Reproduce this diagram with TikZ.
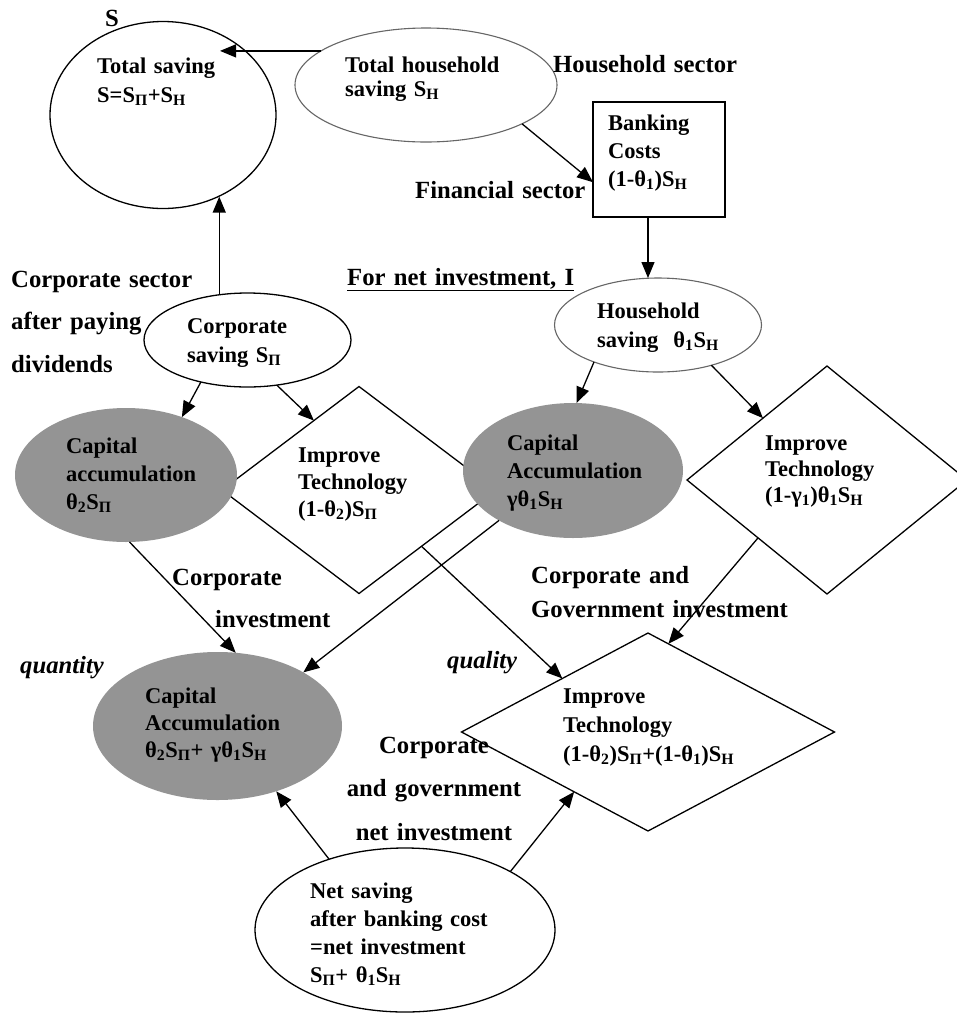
\documentclass[tikz,border=0pt]{standalone}
\usepackage{fontspec}
\setmainfont{Liberation Serif}
\usetikzlibrary{shapes.geometric,arrows.meta}
\newcommand\mysub[1]{\textsubscript{#1}}
\begin{document}
\begin{tikzpicture}[x=1pt,y=-1pt,
  arr/.style={line width=1.3pt,-{Triangle[length=16pt,width=13pt]}},
  ell/.style={ellipse,draw,line width=1.3pt,inner sep=0pt,outer sep=0pt},
  dell/.style={ellipse,draw=black!60,line width=1.1pt,inner sep=0pt,outer sep=0pt},
  gell/.style={ellipse,fill=black!42,draw=none,inner sep=0pt,outer sep=0pt},
  dia/.style={diamond,draw,line width=1.3pt,inner sep=0pt,outer sep=0pt},
  boxn/.style={rectangle,draw,line width=1.3pt,inner sep=0pt,outer sep=0pt},
  ntext/.style={font=\fontsize{22.5}{#1}\selectfont\bfseries,text width=330pt,align=left,anchor=base west,inner sep=0pt},
  ntext/.default=27,
  lab/.style={font=\fontsize{24.7}{#1}\selectfont\bfseries,text width=330pt,align=left,anchor=base west,inner sep=0pt},
  lab/.default=43,
]
\useasboundingbox (0,0) rectangle (957,1013);
\fill[white] (0,0) rectangle (957,1013);

% shapes
\node[ell,minimum width=226pt,minimum height=187pt] (tot) at (163,115) {};
\node[dell,minimum width=262pt,minimum height=114pt] (hh) at (426,85) {};
\node[boxn,minimum width=132pt,minimum height=115pt] (bank) at (659,159.5) {};
\node[dell,minimum width=207pt,minimum height=94pt] (hs) at (658,325) {};
\node[ell,minimum width=207pt,minimum height=94pt] (cs) at (247.5,340) {};
\node[dia,minimum width=274pt,minimum height=207pt] (it1) at (359,490) {};
\node[dia,minimum width=280pt,minimum height=228pt] (it2) at (827,480) {};
\node[gell,minimum width=222pt,minimum height=134pt] (ca1) at (126,475) {};
\node[gell,minimum width=220pt,minimum height=135pt] (ca2) at (573,470.5) {};
\node[dia,minimum width=373pt,minimum height=198pt] (it3) at (648,732) {};
\node[gell,minimum width=249pt,minimum height=148pt] (ca3) at (217.5,726) {};
\node[ell,minimum width=300pt,minimum height=164pt] (ns) at (405,930) {};

% texts inside shapes
\node[ntext=29] (ttot) at (97,73) {Total saving\\S=S\mysub{Π}+S\mysub{H}};
\node[ntext=24] (thh) at (345,72) {Total household\\saving S\mysub{H}};
\node[ntext=28] (tbank) at (608,130) {Banking\\Costs\\(1-θ\mysub{1})S\mysub{H}};
\node[ntext=29] (ths) at (597,318) {Household\\saving\ \ θ\mysub{1}S\mysub{H}};
\node[ntext=29] (tcs) at (187,333) {Corporate\\saving S\mysub{Π}};
\node[ntext=28] (tca1) at (66,453) {Capital\\accumulation\\θ\mysub{2}S\mysub{Π}};
\node[ntext=27] (tit1) at (298,462) {Improve\\Technology\\(1-θ\mysub{2})S\mysub{Π}};
\node[ntext=28] (tca2) at (507,450) {Capital\\Accumulation\\γθ\mysub{1}S\mysub{H}};
\node[ntext=26] (tit2) at (765,450) {Improve\\Technology\\(1-γ\mysub{1})θ\mysub{1}S\mysub{H}};
\node[ntext=27] (tca3) at (145,703) {Capital\\Accumulation\\θ\mysub{2}S\mysub{Π}+ γθ\mysub{1}S\mysub{H}};
\node[ntext=29] (tit3) at (563,703) {Improve\\Technology\\(1-θ\mysub{2})S\mysub{Π}+(1-θ\mysub{1})S\mysub{H}};
\node[ntext=28] (tns) at (310,898) {Net saving\\after banking cost\\=net investment\\S\mysub{Π}+ θ\mysub{1}S\mysub{H}};

% free labels
\node[lab] (lS) at (105,26) {S};
\node[lab] (lhsec) at (553,72) {Household sector};
\node[lab] (lfin) at (415,198) {Financial sector};
\node[lab] (lnet) at (347,285) {\underline{For net investment, I}};
\node[lab=42.5] (lcorp) at (11,287) {Corporate sector\\after paying\\dividends};
\node[lab=42] (lci) at (172,585) {Corporate\\\hspace*{43pt}investment};
\node[lab,font=\fontsize{24.7}{30}\selectfont\bfseries\itshape] (lqn) at (20,673) {quantity};
\node[lab,font=\fontsize{24.7}{30}\selectfont\bfseries\itshape] (lql) at (447,668) {quality};
\node[lab=34] (lcg) at (531,583) {Corporate and\\Government investment};
\node[lab=43.5,align=center,text width=220pt,anchor=base] (lcgn) at (434,753) {Corporate\\and government\\net investment};

% connectors
\coordinate (tipS) at (220,48);
\draw[arr] (hh.162) -- (hh.162 -| tipS);
\draw[arr] (cs.122) -- (cs.122 |- tot.-56);
\draw[arr] (hh.-22) -- (bank.199);
\draw[arr] ([xshift=-11pt]bank.south) -- ([xshift=-11pt]bank.south |- hs.north);
\draw[arr] (cs.222) -- (ca1.46);
\draw[arr] (cs.-57) -- (it1.123);
\draw[arr] (hs.210) -- (ca2.87);
\draw[arr] (hs.-37) -- (it2.136);
\draw[arr] (ca1.-87) -- (ca3.76);
\draw[arr] (ca2.214) -- (ca3.32);
\draw[arr] (it1.-42) -- (it3.148);
\draw[arr] (it2.220) -- (it3.77);
\draw[arr] (ns.137) -- (ca3.-48);
\draw[arr] (ns.29) -- (it3.219);
\end{tikzpicture}
\end{document}
